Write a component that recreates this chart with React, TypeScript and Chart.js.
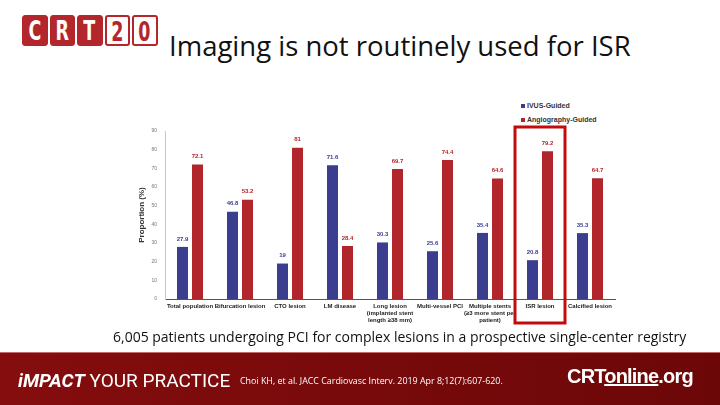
import React, { useEffect, useRef } from "react";
import { Chart, registerables } from "chart.js";

Chart.register(...registerables);

const categories: (string | string[])[] = [
  "Total population",
  "Bifurcation lesion",
  "CTO lesion",
  "LM disease",
  ["Long lesion", "(implanted stent", "length ≥38 mm)"],
  "Multi-vessel PCI",
  ["Multiple stents", "(≥3 more stent per", "patient)"],
  "ISR lesion",
  "Calcified lesion",
];
const ivusValues = [27.9, 46.8, 19, 71.6, 30.3, 25.6, 35.4, 20.8, 35.3];
const angioValues = [72.1, 53.2, 81, 28.4, 69.7, 74.4, 64.6, 79.2, 64.7];
const seriesNames = ["IVUS-Guided", "Angiography-Guided"];
const yTicks = [0, 10, 20, 30, 40, 50, 60, 70, 80, 90];
const highlightIndex = 7;

const BLUE = "#3b3d8f";
const RED = "#b0262a";

const valueLabels = {
  id: "valueLabels",
  afterDatasetsDraw(chart: any) {
    const ctx = chart.ctx;
    ctx.save();
    ctx.font = "bold 6px 'Liberation Sans', Arial, sans-serif";
    ctx.textAlign = "center";
    ctx.textBaseline = "bottom";
    chart.data.datasets.forEach((ds: any, di: number) => {
      const meta = chart.getDatasetMeta(di);
      ctx.fillStyle = ds.labelColor;
      meta.data.forEach((el: any, i: number) => {
        ctx.fillText(String(ds.data[i]), el.x, el.y - 5);
      });
    });
    ctx.restore();
  },
};

const highlightBox = {
  id: "highlightBox",
  afterDraw(chart: any) {
    const { ctx, chartArea } = chart;
    const x = chart.scales.x;
    const c = x.getPixelForTick(highlightIndex);
    const half = (x.getPixelForTick(1) - x.getPixelForTick(0)) / 2;
    ctx.save();
    ctx.strokeStyle = "#c40a0a";
    ctx.lineWidth = 3;
    ctx.strokeRect(c - half, chartArea.top - 4, half * 2, chartArea.bottom - chartArea.top + 28);
    ctx.restore();
  },
};

function BarChart() {
  const ref = useRef<HTMLCanvasElement>(null);
  useEffect(() => {
    if (!ref.current) return;
    const chart = new Chart(ref.current, {
      type: "bar",
      data: {
        labels: categories,
        datasets: [
          {
            label: seriesNames[0],
            data: ivusValues,
            backgroundColor: BLUE,
            labelColor: "#3b3d8f",
          } as any,
          {
            label: seriesNames[1],
            data: angioValues,
            backgroundColor: RED,
            labelColor: "#b0262a",
          } as any,
        ],
      },
      options: {
        responsive: false,
        animation: false,
        devicePixelRatio: 1,
        layout: { padding: { top: 11, right: 10, left: 0, bottom: 0 } },
        datasets: { bar: { categoryPercentage: 0.6, barPercentage: 0.733 } },
        plugins: {
          legend: { display: false },
          tooltip: { enabled: false },
          title: { display: false },
        },
        scales: {
          x: {
            grid: { display: false, drawTicks: false },
            border: { display: true, color: "#555", width: 1 },
            ticks: {
              autoSkip: false,
              maxRotation: 0,
              minRotation: 0,
              padding: 4,
              color: "#222",
              font: { family: "'Liberation Sans', Arial, sans-serif", size: 6, weight: "bold", lineHeight: 1.15 },
            },
            afterFit: (s: any) => {
              s.height = 33;
            },
          },
          y: {
            min: 0,
            max: 90,
            afterBuildTicks: (s: any) => {
              s.ticks = yTicks.map((v) => ({ value: v }));
            },
            grid: { display: false, drawTicks: false },
            border: { display: true, color: "#c8c8c8", width: 1 },
            ticks: {
              padding: 8,
              color: "#777",
              font: { family: "'Liberation Sans', Arial, sans-serif", size: 5 },
            },
            title: {
              display: true,
              text: "Proportion (%)",
              color: "#333",
              padding: { top: 12, bottom: 0 },
              font: { family: "'Liberation Sans', Arial, sans-serif", size: 8, weight: "bold" },
            },
            afterFit: (s: any) => {
              s.width = 40;
            },
          },
        },
      },
      plugins: [valueLabels, highlightBox],
    });
    return () => chart.destroy();
  }, []);
  return (
    <canvas
      ref={ref}
      width={500}
      height={212}
      style={{ position: "absolute", left: 125, top: 120, width: 500, height: 212 }}
    />
  );
}

function Logo() {
  const letters = ["C", "R", "T", "2", "0"];
  return (
    <div style={{ position: "absolute", left: 22, top: 15, display: "flex", gap: 2 }}>
      {letters.map((l, i) => {
        const filled = i < 3;
        return (
          <div
            key={i}
            style={{
              width: 25.5,
              height: 31,
              boxSizing: "border-box",
              borderRadius: 3,
              background: filled ? "#b3262c" : "#fff",
              border: filled ? "1px solid #b3262c" : "2px solid #b3262c",
              color: filled ? "#fff" : "#b3262c",
              fontFamily: "'DejaVu Sans Condensed', 'DejaVu Sans', sans-serif",
              fontWeight: "bold",
              fontSize: 27,
              lineHeight: "29px",
              textAlign: "center",
              overflow: "hidden",
            }}
          >
            <span style={{ display: "inline-block", transform: "scaleX(0.72)" }}>{l}</span>
          </div>
        );
      })}
    </div>
  );
}

export default function App() {
  return (
    <div
      style={{
        position: "fixed",
        left: 0,
        top: 0,
        width: 720,
        height: 405,
        background: "#fff",
        overflow: "hidden",
        fontFamily: "'Open Sans', sans-serif",
      }}
    >
      <Logo />
      <div
        style={{
          position: "absolute",
          left: 169,
          top: 27,
          fontSize: 27.5,
          color: "#111",
          whiteSpace: "nowrap",
          fontFamily: "'Open Sans', sans-serif",
        }}
      >
        Imaging is not routinely used for ISR
      </div>
      <div
        style={{
          position: "absolute",
          left: 521,
          top: 99,
          fontFamily: "'Liberation Sans', Arial, sans-serif",
          fontSize: 7,
          fontWeight: "bold",
          color: "#333",
          lineHeight: "14px",
        }}
      >
        {seriesNames.map((n, i) => (
          <div key={n} style={{ display: "flex", alignItems: "center" }}>
            <span
              style={{
                display: "inline-block",
                width: 4,
                height: 4,
                background: i === 0 ? BLUE : RED,
                marginRight: 2,
              }}
            />
            {n}
          </div>
        ))}
      </div>
      <BarChart />
      <div
        style={{
          position: "absolute",
          left: 113,
          top: 327,
          fontSize: 14,
          color: "#111",
          whiteSpace: "nowrap",
        }}
      >
        6,005 patients undergoing PCI for complex lesions in a prospective single-center registry
      </div>
      <div
        style={{
          position: "absolute",
          left: 0,
          top: 352,
          width: 720,
          height: 53,
          background: "linear-gradient(90deg, #850d0e 0%, #780a0b 50%, #6c0708 100%)",
          borderTop: "1px solid #c46a6a",
        }}
      >
        <div
          style={{
            position: "absolute",
            left: 18,
            top: 16,
            color: "#fff",
            fontFamily: "'Roboto', 'Liberation Sans', sans-serif",
            fontSize: 19,
            whiteSpace: "nowrap",
          }}
        >
          <span style={{ fontWeight: "bold", fontStyle: "italic" }}>iMPACT</span> YOUR PRACTICE
        </div>
        <div
          style={{
            position: "absolute",
            left: 240,
            top: 21,
            color: "#fff",
            fontFamily: "'Open Sans', sans-serif",
            fontSize: 8.9,
            whiteSpace: "nowrap",
          }}
        >
          Choi KH, et al. JACC Cardiovasc Interv. 2019 Apr 8;12(7):607-620.
        </div>
        <div
          style={{
            position: "absolute",
            left: 567,
            top: 12,
            color: "#fff",
            fontFamily: "'Liberation Sans', Arial, sans-serif",
            fontSize: 20,
            fontWeight: "bold",
            whiteSpace: "nowrap",
            letterSpacing: -0.8,
          }}
        >
          CRT<span style={{ textDecoration: "underline" }}>online</span>.org
        </div>
      </div>
    </div>
  );
}
